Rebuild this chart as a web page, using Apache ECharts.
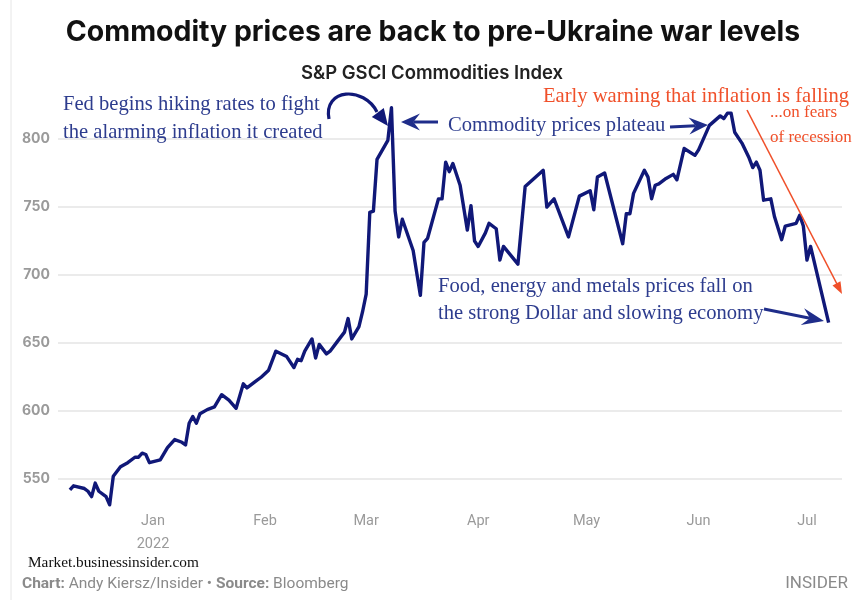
<!DOCTYPE html>
<html>
<head>
<meta charset="utf-8">
<script src="https://cdn.jsdelivr.net/npm/echarts@6/dist/echarts.min.js"></script>
<style>
html,body{margin:0;padding:0;background:#fff;}
#chart{width:867px;height:600px;}
</style>
</head>
<body>
<div id="chart"></div>
<script>
// ---- Data (S&P GSCI Commodities Index) ----
const dates = [
  '2021-12-09','2021-12-10','2021-12-13','2021-12-14','2021-12-15','2021-12-16','2021-12-17','2021-12-19','2021-12-20','2021-12-21',
  '2021-12-23','2021-12-25','2021-12-27','2021-12-28','2021-12-29','2021-12-30','2021-12-31','2022-01-03','2022-01-05','2022-01-07',
  '2022-01-09','2022-01-10','2022-01-11','2022-01-12','2022-01-13','2022-01-14','2022-01-16','2022-01-18','2022-01-20','2022-01-22',
  '2022-01-24','2022-01-26','2022-01-27','2022-01-29','2022-01-31','2022-02-02','2022-02-04','2022-02-07','2022-02-09','2022-02-10',
  '2022-02-11','2022-02-12','2022-02-14','2022-02-15','2022-02-16','2022-02-18','2022-02-19','2022-02-21','2022-02-23','2022-02-24',
  '2022-02-25','2022-02-27','2022-02-28','2022-03-01','2022-03-02','2022-03-03','2022-03-04','2022-03-07','2022-03-08','2022-03-09',
  '2022-03-10','2022-03-11','2022-03-14','2022-03-16','2022-03-17','2022-03-18','2022-03-21','2022-03-22','2022-03-23','2022-03-24',
  '2022-03-25','2022-03-27','2022-03-29','2022-03-30','2022-03-31','2022-04-01','2022-04-03','2022-04-04','2022-04-06','2022-04-07',
  '2022-04-08','2022-04-12','2022-04-14','2022-04-19','2022-04-20','2022-04-22','2022-04-26','2022-04-29','2022-05-02','2022-05-03',
  '2022-05-04','2022-05-06','2022-05-11','2022-05-12','2022-05-13','2022-05-14','2022-05-17','2022-05-18','2022-05-19','2022-05-20',
  '2022-05-21','2022-05-23','2022-05-25','2022-05-26','2022-05-28','2022-05-31','2022-06-01','2022-06-04','2022-06-07','2022-06-08',
  '2022-06-09','2022-06-10','2022-06-11','2022-06-13','2022-06-15','2022-06-16','2022-06-17','2022-06-18','2022-06-19','2022-06-21',
  '2022-06-22','2022-06-24','2022-06-25','2022-06-28','2022-06-29','2022-06-30','2022-07-01','2022-07-02','2022-07-07'
];
const values = [
  542,545,543,541,537,547,541,537,531,552,
  559,562,566,566,569,568,562,564,573,579,
  577,575,591,596,591,598,601,603,612,608,
  602,620,617,621,625,630,644,640,632,638,
  637,644,653,639,649,642,644,651,658,668,
  653,662,673,686,746,747,785,799,823,747,
  728,741,718,685,724,727,756,756,783,776,
  782,766,733,751,725,721,731,738,734,711,
  721,708,765,777,750,756,728,758,762,748,
  772,775,723,745,745,760,777,772,756,766,
  767,771,774,770,793,788,792,810,817,815,
  819,819,805,797,786,779,783,777,755,756,
  743,726,736,738,744,736,711,721,665
];
const monthNames = ['Jan','Feb','Mar','Apr','May','Jun','Jul','Aug','Sep','Oct','Nov','Dec'];
const monthTicks = ['2022-01-01','2022-02-01','2022-03-01','2022-04-01','2022-05-01','2022-06-01','2022-07-01'];
const yTicks = [500,550,600,650,700,750,800,850];

const title = 'Commodity prices are back to pre-Ukraine war levels';
const subtitle = 'S&P GSCI Commodities Index';

// ---- Chart ----
const chart = echarts.init(document.getElementById('chart'), null, {renderer:'canvas'});
const DAY = 86400000;
const parseD = s => { const p = s.split('-').map(Number); return Date.UTC(p[0],p[1]-1,p[2]); };
const jan1 = parseD('2022-01-01');

const BLUE = '#2d3c8e';
const NAVY = '#101878';
const RED = '#f0502a';
const serif = '"Liberation Serif","DejaVu Serif",serif';

function stealthArrow(x1,y1,x2,y2,color,lw,L,W){
  const dx=x2-x1, dy=y2-y1, len=Math.hypot(dx,dy);
  const ux=dx/len, uy=dy/len, px=-uy, py=ux;
  const bx=x2-ux*L, by=y2-uy*L;
  const nx=x2-ux*L*0.65, ny=y2-uy*L*0.65;
  return [
    {type:'polyline', shape:{points:[[x1,y1],[nx,ny]]}, style:{stroke:color,lineWidth:lw,fill:null}, z:100},
    {type:'polygon', shape:{points:[[x2,y2],[bx+px*W,by+py*W],[nx,ny],[bx-px*W,by-py*W]]}, style:{fill:color}, z:100}
  ];
}
function triArrow(x1,y1,x2,y2,color,L,W){
  const dx=x2-x1, dy=y2-y1, len=Math.hypot(dx,dy);
  const ux=dx/len, uy=dy/len, px=-uy, py=ux;
  const bx=x2-ux*L, by=y2-uy*L;
  return {type:'polygon', shape:{points:[[x2,y2],[bx+px*W,by+py*W],[bx-px*W,by-py*W]]}, style:{fill:color}, z:100};
}
function txt(x,y,text,font,fill,align){
  return {type:'text', x:x, y:y, z:100, style:{text:text, font:font, fill:fill, align:align||'left', verticalAlign:'middle'}};
}

const AF = '20.6px '+serif;
const graphics = [
  txt(433,32,title,'bold 28.4px Inter, "Noto Sans", sans-serif','#111','center'),
  txt(432,73,subtitle,'600 18.5px Inter, "Noto Sans", sans-serif','#222','center'),
  txt(63,105,'Fed begins hiking rates to fight',AF,BLUE),
  txt(63,133,'the alarming inflation it created',AF,BLUE),
  txt(448,126,'Commodity prices plateau',AF,BLUE),
  txt(543,97,'Early warning that inflation is falling',AF,RED),
  txt(770,113,'...on fears','17px '+serif,RED),
  txt(770,138,'of recession','17px '+serif,RED),
  txt(438,287,'Food, energy and metals prices fall on',AF,BLUE),
  txt(438,314,'the strong Dollar and slowing economy',AF,BLUE),
  txt(28,563,'Market.businessinsider.com','15.3px '+serif,'#111'),
  {type:'text', x:22, y:584, z:100, style:{
    text:'{b|Chart:} Andy Kiersz/Insider \u2022 {b|Source:} Bloomberg',
    font:'15.5px Roboto, sans-serif', fill:'#8a8a8a', verticalAlign:'middle',
    rich:{b:{fontWeight:'bold', fontFamily:'Roboto', fontSize:15.5, fill:'#8a8a8a'}}
  }},
  txt(848,584,'INSIDER','17px Roboto, sans-serif','#8a8a8a','right'),
  {type:'bezierCurve', z:100, shape:{x1:329,y1:119,cpx1:323,cpy1:88,cpx2:364,cpy2:86,x2:377,y2:112},
    style:{stroke:NAVY,lineWidth:3.2,fill:null}},
  triArrow(370,102,388,126,NAVY,17,7.5),
  ...stealthArrow(438,122,401,122,'#1f2d8a',3,19,8.5),
  ...stealthArrow(670,127,708,125,'#1f2d8a',3,19,8.5),
  ...stealthArrow(764,309,824,321,'#1f2d8a',3,22,8.5),
  {type:'line', z:100, shape:{x1:747,y1:110,x2:838,y2:286}, style:{stroke:RED,lineWidth:1.6}},
  triArrow(747,110,842,294,RED,12,4.5),
  {type:'line', z:1, shape:{x1:11,y1:0,x2:11,y2:600}, style:{stroke:'#e6e6e6',lineWidth:1}}
];

const option = {
  backgroundColor:'#fff',
  animation:false,
  grid:{left:58, right:25, top:71, bottom:53, containLabel:false},
  xAxis:{
    type:'value',
    min: jan1 - 26.3*DAY,
    max: jan1 + 190.7*DAY,
    offset:-45,
    axisLine:{show:false},
    axisTick:{show:false},
    splitLine:{show:false},
    axisLabel:{
      customValues: monthTicks.map(parseD),
      color:'#9a9a9a', fontSize:14.5, fontFamily:'Roboto, sans-serif', lineHeight:23, margin:8,
      formatter:function(v){ const d=new Date(v); const m=d.getUTCMonth(); return m===0 ? monthNames[m]+'\n'+d.getUTCFullYear() : monthNames[m]; }
    }
  },
  yAxis:{
    type:'value', min:yTicks[0], max:yTicks[yTicks.length-1], interval:50,
    axisLine:{show:false}, axisTick:{show:false},
    axisLabel:{
      color:'#9a9a9a', fontSize:14, fontWeight:'bold', fontFamily:'Inter, sans-serif', margin:8,
      formatter:function(v){ return (v===yTicks[0]||v===yTicks[yTicks.length-1]) ? '' : String(v); }
    },
    splitLine:{show:true, lineStyle:{width:1.5, color:['rgba(0,0,0,0)','#e4e4e4','#e4e4e4','#e4e4e4','#e4e4e4','#e4e4e4','#e4e4e4','rgba(0,0,0,0)']}}
  },
  series:[{
    type:'line',
    data: dates.map((d,i)=>[parseD(d), values[i]]),
    showSymbol:false,
    lineStyle:{color:NAVY, width:3.4, join:'round'},
    itemStyle:{color:NAVY},
    z:5
  }],
  graphic: graphics
};
chart.setOption(option);
</script>
</body>
</html>
